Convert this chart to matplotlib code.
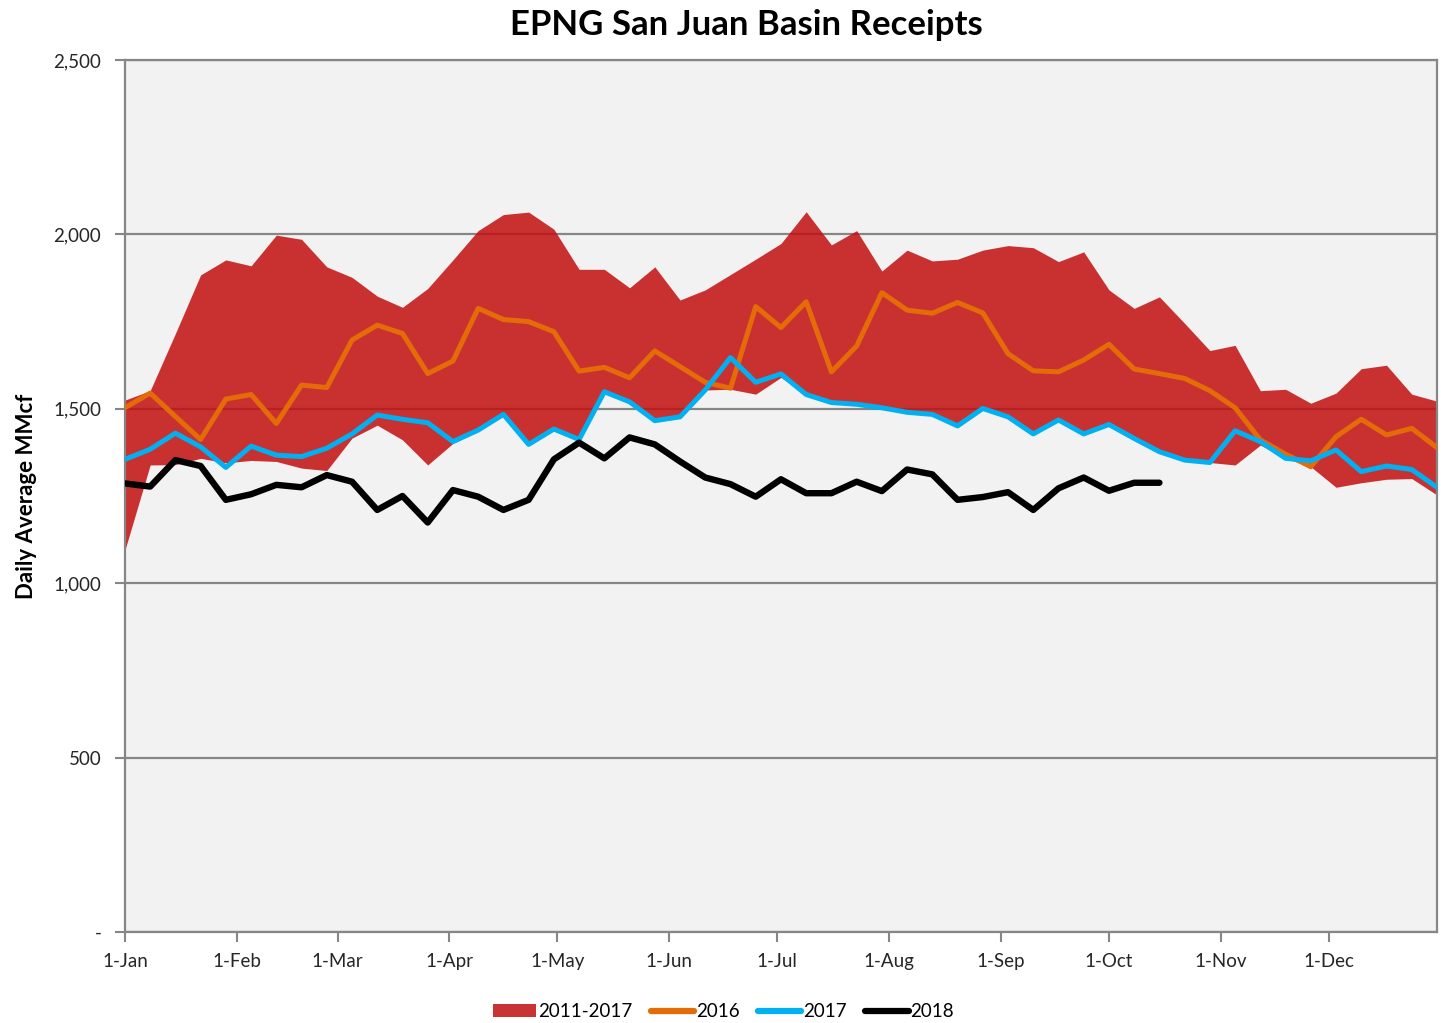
import numpy as np
import matplotlib
matplotlib.use('Agg')
import matplotlib.pyplot as plt
from matplotlib.patches import Patch
from matplotlib.lines import Line2D

plt.rcParams['font.family'] = ['Lato', 'DejaVu Sans']

# weekly points, one per 7 days starting 1-Jan
band_high = [1525, 1552, 1716, 1884, 1927, 1910, 1998, 1986, 1907, 1877, 1823, 1791,
             1845, 1927, 2011, 2057, 2064, 2015, 1900, 1900, 1847, 1907, 1812, 1841,
             1885, 1929, 1974, 2065, 1970, 2011, 1895, 1955, 1924, 1929, 1955, 1968,
             1962, 1922, 1950, 1841, 1788, 1821, 1745, 1667, 1682, 1552, 1556, 1516,
             1545, 1615, 1625, 1542, 1522]
band_low = [1095, 1339, 1340, 1358, 1345, 1352, 1349, 1330, 1323, 1416, 1453, 1411,
            1339, 1401, 1437, 1480, 1396, 1440, 1410, 1549, 1520, 1466, 1477, 1554,
            1556, 1542, 1590, 1541, 1518, 1513, 1503, 1490, 1484, 1451, 1501, 1477,
            1428, 1468, 1428, 1455, 1415, 1377, 1353, 1346, 1339, 1396, 1358, 1334,
            1275, 1288, 1298, 1300, 1253]
y2016 = [1503, 1545, 1478, 1412, 1528, 1541, 1458, 1568, 1561, 1697, 1740, 1716,
         1601, 1637, 1788, 1756, 1750, 1721, 1608, 1619, 1589, 1666, 1621, 1576,
         1559, 1793, 1733, 1807, 1606, 1680, 1833, 1783, 1774, 1805, 1775, 1658,
         1609, 1606, 1640, 1685, 1614, 1601, 1587, 1552, 1503, 1411, 1370, 1334,
         1420, 1470, 1425, 1444, 1389]
y2017 = [1355, 1384, 1430, 1391, 1332, 1393, 1367, 1363, 1387, 1428, 1482, 1470,
         1460, 1406, 1439, 1484, 1398, 1442, 1412, 1549, 1520, 1466, 1477, 1554,
         1647, 1576, 1600, 1541, 1518, 1513, 1503, 1490, 1484, 1451, 1501, 1477,
         1428, 1468, 1428, 1455, 1415, 1377, 1353, 1346, 1437, 1406, 1358, 1351,
         1382, 1320, 1336, 1326, 1275]
y2018 = [1286, 1277, 1353, 1336, 1239, 1255, 1282, 1275, 1310, 1291, 1210, 1250,
         1174, 1267, 1248, 1210, 1239, 1355, 1403, 1358, 1418, 1398, 1349, 1303,
         1284, 1248, 1298, 1258, 1258, 1291, 1264, 1326, 1312, 1239, 1247, 1261,
         1210, 1272, 1303, 1265, 1288, 1288]

month_days = [0, 31, 59, 90, 120, 151, 181, 212, 243, 273, 304, 334]
month_labels = ['1-Jan', '1-Feb', '1-Mar', '1-Apr', '1-May', '1-Jun',
                '1-Jul', '1-Aug', '1-Sep', '1-Oct', '1-Nov', '1-Dec']
y_ticks = [0, 500, 1000, 1500, 2000, 2500]
y_labels = ['-', '500', '1,000', '1,500', '2,000', '2,500']

days = np.arange(len(band_high)) * 7
days_2018 = np.arange(len(y2018)) * 7

fig = plt.figure(figsize=(14.41, 10.23), dpi=100)
ax = fig.add_axes([0.0867, 0.089, 0.9105, 0.8523])
ax.set_facecolor('#F2F2F2')

grey = '#868686'
for v in y_ticks:
    ax.axhline(v, color=grey, lw=1.6, zorder=1)

ax.fill_between(days, band_low, band_high, color=(0.76, 0.06, 0.06), alpha=0.85,
                lw=0, zorder=2)
ax.plot(days, y2016, color='#E36C09', lw=3.6, zorder=3)
ax.plot(days, y2017, color='#00B0F0', lw=3.6, zorder=4)
ax.plot(days_2018, y2018, color='black', lw=4.6, solid_capstyle='round', zorder=5)

ax.set_xlim(0, 364)
ax.set_ylim(0, 2500)
ax.set_xticks(month_days)
ax.set_xticklabels(month_labels)
ax.set_yticks(y_ticks)
ax.set_yticklabels(y_labels)
ax.tick_params(axis='both', labelsize=13.5, color=grey, width=1.5, length=7,
               labelcolor='#262626')
ax.tick_params(axis='x', pad=8)
ax.tick_params(axis='y', pad=10)

for side in ['left', 'bottom', 'right', 'top']:
    ax.spines[side].set_color(grey)
    ax.spines[side].set_linewidth(1.6)

ax.set_ylabel('Daily Average MMcf', fontsize=16, fontweight='bold', labelpad=12)
fig.text(0.518, 0.976, 'EPNG San Juan Basin Receipts', ha='center', va='center',
         fontsize=25, fontweight='bold')

handles = [Patch(facecolor=(0.79, 0.2, 0.2), edgecolor='none'),
           Line2D([], [], color='#E36C09', lw=4.5, solid_capstyle='round'),
           Line2D([], [], color='#00B0F0', lw=4.5, solid_capstyle='round'),
           Line2D([], [], color='black', lw=4.5, solid_capstyle='round')]
fig.legend(handles, ['2011-2017', '2016', '2017', '2018'], loc='center',
           bbox_to_anchor=(0.502, 0.011), ncol=4, frameon=False, fontsize=13.5,
           handlelength=2.3, handletextpad=0.1, columnspacing=1.0)

fig.savefig('out.png', dpi=100)
